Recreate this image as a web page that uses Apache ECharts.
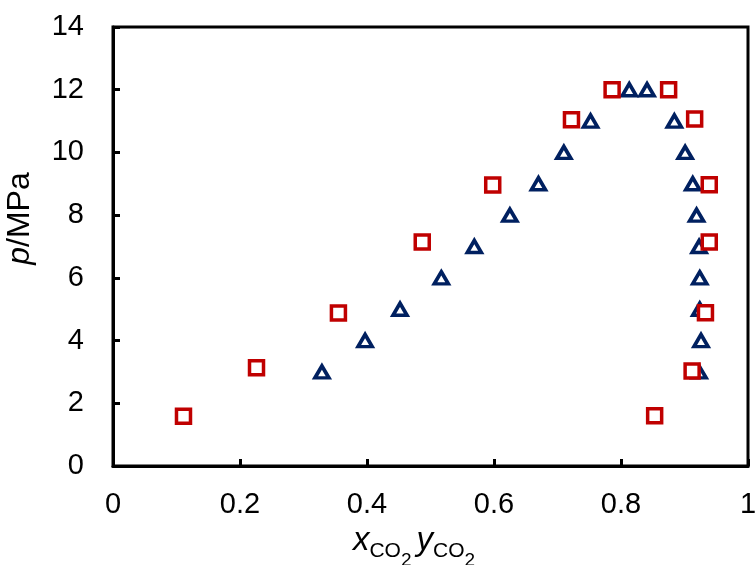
<!DOCTYPE html>
<html><head><meta charset="utf-8">
<script src="https://cdn.jsdelivr.net/npm/echarts@6/dist/echarts.min.js"></script>
<style>html,body{margin:0;padding:0;background:#fff}#c{width:755px;height:565px}</style>
</head><body><div id="c"></div>
<script>
// Squares (red): x, p
const sqX = [0.111, 0.226, 0.355, 0.487, 0.598, 0.722, 0.786, 0.875, 0.916, 0.939, 0.939, 0.933, 0.912, 0.853];
const sqP = [1.59, 3.13, 4.88, 7.14, 8.96, 11.04, 12.0, 12.0, 11.07, 8.97, 7.14, 4.89, 3.03, 1.60];
// Triangles (navy): x, p
const trX = [0.329, 0.397, 0.452, 0.517, 0.569, 0.625, 0.670, 0.710, 0.752, 0.813, 0.841, 0.884, 0.901, 0.913, 0.919, 0.923, 0.924, 0.924, 0.926, 0.923];
const trP = [3, 4, 5, 6, 7, 8, 9, 10, 11, 12, 12, 11, 10, 9, 8, 7, 6, 5, 4, 3];
const xTicks = [0, 0.2, 0.4, 0.6, 0.8, 1];
const yTicks = [0, 2, 4, 6, 8, 10, 12, 14];

const FONT = 'Liberation Sans, Arial, sans-serif';
const chart = echarts.init(document.getElementById('c'));
chart.setOption({
  animation: false,
  backgroundColor: '#fff',
  grid: { left: 113, right: 7, top: 27, bottom: 99, show: true, borderColor: '#000', borderWidth: 3,
          containLabel: false, outerBoundsMode: 'none' },
  xAxis: {
    type: 'value', min: xTicks[0], max: xTicks[xTicks.length - 1], interval: 0.2,
    axisLine: { show: true, lineStyle: { color: '#000', width: 3 } },
    axisTick: { show: true, inside: true, length: 7, lineStyle: { color: '#000', width: 3 } },
    splitLine: { show: false },
    axisLabel: { color: '#000', fontFamily: FONT, fontSize: 29, margin: 24 },
    name: '{i|x}{s|CO}{ss|2}{i|y}{s|CO}{ss2|2}',
    nameLocation: 'middle', nameGap: 53,
    nameTextStyle: {
      color: '#000', fontFamily: FONT, padding: [0, 33, 0, 0],
      rich: {
        i: { fontFamily: FONT, fontStyle: 'italic', fontSize: 33, color: '#000', verticalAlign: 'top' },
        s: { fontFamily: FONT, fontSize: 21, color: '#000', verticalAlign: 'top', padding: [17, 0, 0, 0] },
        ss: { fontFamily: FONT, fontSize: 19, color: '#000', verticalAlign: 'top', padding: [27, 5, 0, 0] },
        ss2: { fontFamily: FONT, fontSize: 19, color: '#000', verticalAlign: 'top', padding: [27, 0, 0, 0] }
      }
    }
  },
  yAxis: {
    type: 'value', min: yTicks[0], max: yTicks[yTicks.length - 1], interval: 2,
    axisLine: { show: true, lineStyle: { color: '#000', width: 3 } },
    axisTick: { show: true, inside: true, length: 7, lineStyle: { color: '#000', width: 3 } },
    splitLine: { show: false },
    axisLabel: { color: '#000', fontFamily: FONT, fontSize: 29, margin: 29 },
    name: '{i|p}/MPa', nameLocation: 'middle', nameGap: 77, nameRotate: 90,
    nameTextStyle: {
      color: '#000', fontFamily: FONT, fontSize: 32, padding: [0, 0, 0, 56],
      rich: { i: { fontFamily: FONT, fontStyle: 'italic', fontSize: 32, color: '#000' } }
    }
  },
  series: [
    {
      type: 'scatter', data: trX.map((x, i) => [x, trP[i]]),
      symbol: 'triangle', symbolSize: [14, 12],
      itemStyle: { color: '#fff', borderColor: '#002060', borderWidth: 3.6, opacity: 1 },
      z: 3
    },
    {
      type: 'scatter', data: sqX.map((x, i) => [x, sqP[i]]),
      symbol: 'rect', symbolSize: [14, 14],
      itemStyle: { color: '#fff', borderColor: '#C00000', borderWidth: 3.5, opacity: 1 },
      z: 4
    }
  ]
});
</script></body></html>
